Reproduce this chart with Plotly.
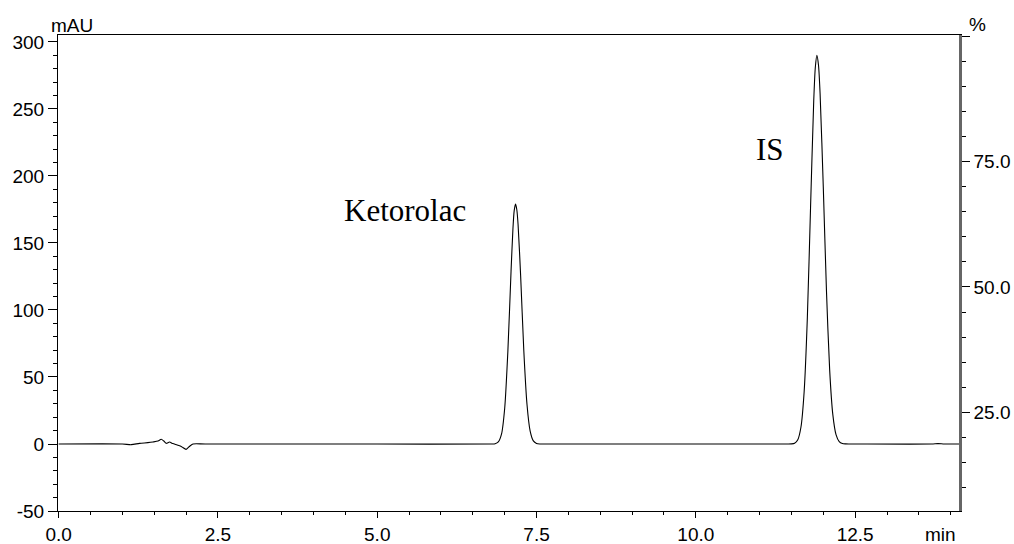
import plotly.graph_objects as go

# Retention time (min) and detector response (mAU)
time_min = [0.0, 1.00, 1.14, 1.27, 1.40, 1.48, 1.56, 1.61, 1.65, 1.69, 1.74, 1.79, 1.86, 1.93, 2.00, 2.06, 2.11, 2.30,
            5.00, 6.80, 6.85, 6.90, 6.95, 7.00, 7.05, 7.10, 7.13, 7.15, 7.17, 7.19, 7.21, 7.25, 7.30, 7.35,
            7.40, 7.45, 7.50, 7.55, 7.70, 10.0, 11.35, 11.45, 11.50, 11.55, 11.60, 11.65, 11.70, 11.75,
            11.80, 11.85, 11.875, 11.90, 11.925, 11.95, 12.00, 12.05, 12.10, 12.15, 12.20, 12.25, 12.30,
            12.35, 12.40, 12.50, 13.70, 13.80, 13.90, 14.13]
signal_mau = [0.0, 0.0, -0.5, 0.5, 1.0, 1.5, 2.2, 3.5, 2.2, 0.5, 1.5, 0.3, -0.8, -2.0, -4.0, -1.5, 0.0, 0.0,
              0.0, 0.0, 0.2, 1.5, 7.3, 26.5, 69.0, 129.0, 161.0, 174.3, 179.0, 175.0, 164.0, 126.0, 70.0, 29.7,
              9.6, 2.3, 0.4, 0.0, 0.0, 0.0, 0.0, 0.0, 0.1, 0.6, 3.2, 12.7, 39.2, 94.2,
              175.9, 255.9, 281.0, 290.0, 282.6, 261.5, 191.9, 114.4, 55.5, 21.9, 7.0, 1.8, 0.4,
              0.1, 0.0, 0.0, 0.0, 0.3, 0.0, 0.0]

peak_names = ["Ketorolac", "IS"]
peak_label_x = [5.43, 11.17]
peak_label_y = [174.0, 220.0]

x_tick_vals = [0.0, 2.5, 5.0, 7.5, 10.0, 12.5]
x_tick_text = ["0.0", "2.5", "5.0", "7.5", "10.0", "12.5"]
y_tick_vals = [-50, 0, 50, 100, 150, 200, 250, 300]
y_tick_text = ["-50", "0", "50", "100", "150", "200", "250", "300"]
y2_tick_vals = [25, 50, 75, 100]
y2_tick_text = ["25.0", "50.0", "75.0", ""]

axis_font = dict(family="Liberation Sans, Arial, sans-serif", size=19, color="black")
label_font = dict(family="Liberation Serif, Times New Roman, serif", size=31, color="black")

fig = go.Figure()
fig.add_trace(go.Scatter(
    x=time_min, y=signal_mau, mode="lines",
    line=dict(color="black", width=1.1, shape="spline", smoothing=0.7),
    showlegend=False, hoverinfo="skip"))
# invisible trace to activate right axis
fig.add_trace(go.Scatter(x=[0], y=[50], yaxis="y2", mode="markers",
                         marker=dict(opacity=0), showlegend=False, hoverinfo="skip"))

for name, lx, ly in zip(peak_names, peak_label_x, peak_label_y):
    fig.add_annotation(x=lx, y=ly, xref="x", yref="y", text=name, showarrow=False,
                       font=label_font, xanchor="center", yanchor="middle")

fig.add_annotation(x=0.0155, y=1.021, xref="paper", yref="paper", text="mAU", showarrow=False,
                   font=axis_font, xanchor="center", yanchor="middle")
fig.add_annotation(x=1.02, y=1.023, xref="paper", yref="paper", text="%", showarrow=False,
                   font=axis_font, xanchor="center", yanchor="middle")
fig.add_annotation(x=0.979, y=-0.05, xref="paper", yref="paper", text="min", showarrow=False,
                   font=axis_font, xanchor="center", yanchor="middle")

fig.update_layout(
    width=1014, height=544,
    margin=dict(l=58, r=55, t=35, b=33, autoexpand=False),
    paper_bgcolor="white", plot_bgcolor="white",
    xaxis=dict(range=[-0.01, 14.13], tickmode="array", tickvals=x_tick_vals,
               ticktext=x_tick_text, automargin=False,
               ticks="outside", ticklen=6, tickwidth=1, tickcolor="black",
               minor=dict(dtick=0.5, tick0=0, ticks="outside", ticklen=3, tickcolor="black"),
               showline=True, linecolor="black", linewidth=1, mirror=True,
               showgrid=False, zeroline=False, tickfont=axis_font),
    yaxis=dict(range=[-50, 305.2], tickmode="array", tickvals=y_tick_vals,
               ticktext=y_tick_text, automargin=False,
               ticks="outside", ticklen=9, tickwidth=1, tickcolor="black",
               minor=dict(dtick=10, tick0=0, ticks="outside", ticklen=4, tickcolor="black"),
               showline=True, linecolor="black", linewidth=1,
               showgrid=False, zeroline=False, tickfont=axis_font),
    yaxis2=dict(range=[5.36, 100.2], overlaying="y", side="right", tickmode="array",
                tickvals=y2_tick_vals, ticktext=y2_tick_text, automargin=False,
                ticks="outside", ticklen=8, tickwidth=1, tickcolor="black",
                minor=dict(dtick=5, tick0=0, ticks="outside", ticklen=4, tickcolor="black"),
                showline=True, linecolor="#666666", linewidth=2.5,
                showgrid=False, zeroline=False, tickfont=axis_font),
)

fig.write_html("out.html")
